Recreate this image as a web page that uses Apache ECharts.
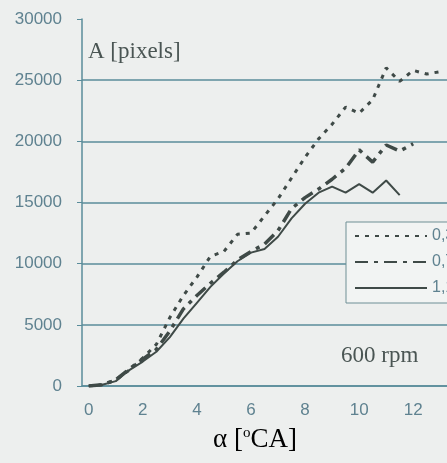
<!DOCTYPE html>
<html>
  <head>
    <meta charset="utf-8">
    <title>600 rpm</title>
    <script src="https://cdn.jsdelivr.net/npm/echarts@6/dist/echarts.min.js"></script>
    <style>
      html, body { margin: 0; padding: 0; background: #edefee; }
      #chart { width: 447px; height: 463px; }
    </style>
  </head>
  <body>
    <div id="chart"></div>
    <script>
      // crank angle categories, 0.5 deg steps
      var angles = ['0', '0.5', '1', '1.5', '2', '2.5', '3', '3.5', '4', '4.5', '5', '5.5', '6', '6.5',
        '7', '7.5', '8', '8.5', '9', '9.5', '10', '10.5', '11', '11.5', '12', '12.5', '13']
      var seriesNames = ['0,3', '0,7', '1,1']
      // A [pixels]
      var area03 = [0, 100, 500, 1300, 2300, 3400, 5600, 7400, 8900, 10600, 11000, 12400, 12500, 13900,
        15300, 17000, 18700, 20200, 21400, 22800, 22300, 23400, 26000, 24900, 25800, 25500, 25700]
      var area07 = [0, 100, 500, 1400, 2200, 3000, 4500, 6300, 7400, 8400, 9300, 10300, 11000, 11600,
        12700, 14500, 15400, 16100, 16900, 17800, 19300, 18300, 19700, 19200, 19800, null, null]
      var area11 = [0, 100, 400, 1300, 2000, 2800, 4000, 5500, 6800, 8100, 9200, 10200, 10900, 11200,
        12200, 13700, 14900, 15800, 16300, 15800, 16500, 15800, 16800, 15600, null, null, null]
      var yTicks = [0, 5000, 10000, 15000, 20000, 25000, 30000]

      var lineColor = '#3f4a47'
      var gridColor = '#5a8c9a'
      var labelColor = '#5f8290'
      var serif = '"Liberation Serif", "DejaVu Serif", serif'
      var sans = '"Liberation Sans", Arial, sans-serif'

      var chart = echarts.init(document.getElementById('chart'))

      chart.setOption({
        backgroundColor: '#edefee',
        animation: false,
        grid: { left: 82, top: 19, right: -13, bottom: 77 },
        legend: {
          orient: 'vertical',
          left: 346,
          top: 222,
          padding: [6, 14, 7, 8],
          itemWidth: 72,
          itemHeight: 14,
          itemGap: 10,
          backgroundColor: '#f2f4f3',
          borderColor: '#6f8f95',
          borderWidth: 1,
          data: seriesNames,
          // hide the marker, keep only the line sample
          itemStyle: { color: 'rgba(0,0,0,0)', borderWidth: 0 },
          textStyle: { color: labelColor, fontSize: 16, fontFamily: sans }
        },
        xAxis: {
          type: 'category',
          data: angles,
          boundaryGap: true,
          axisLine: { lineStyle: { color: gridColor, width: 1.5 } },
          axisTick: { interval: 0, length: 4, lineStyle: { color: gridColor } },
          axisLabel: {
            interval: 3,
            margin: 16,
            color: labelColor,
            fontSize: 17,
            fontFamily: sans
          },
          splitLine: { show: false }
        },
        yAxis: {
          type: 'value',
          min: yTicks[0],
          max: yTicks[yTicks.length - 1],
          interval: 5000,
          axisLine: { show: true, lineStyle: { color: gridColor, width: 1.5 } },
          axisTick: { show: true, length: 5, lineStyle: { color: gridColor } },
          axisLabel: {
            margin: 20,
            color: labelColor,
            fontSize: 17,
            fontFamily: sans,
            formatter: function (v) { return String(v) }
          },
          // no gridline at the top value
          splitLine: {
            lineStyle: {
              color: [gridColor, gridColor, gridColor, gridColor, gridColor, gridColor, 'rgba(0,0,0,0)'],
              width: 1.5
            }
          }
        },
        graphic: [
          {
            type: 'text', left: 88, top: 40,
            style: { text: 'A [pixels]', font: '23px ' + serif, fill: '#4a5553' }
          },
          {
            type: 'text', left: 341, top: 344,
            style: { text: '600 rpm', font: '23px ' + serif, fill: '#4a5553' }
          },
          {
            type: 'text', left: 213, top: 426,
            style: {
              text: '{a|\u03b1 [}{s|o}{a|CA]}',
              rich: {
                a: { fontSize: 27, fontFamily: serif, color: '#4a5553' },
                s: { fontSize: 15, fontFamily: serif, color: '#4a5553', verticalAlign: 'top', padding: [0, 0, 12, 0] }
              }
            }
          }
        ],
        series: [
          {
            name: seriesNames[0],
            type: 'line',
            data: area03,
            symbol: 'none',
            lineStyle: { color: lineColor, width: 3, type: [4, 6] },
            itemStyle: { color: lineColor },
            z: 3
          },
          {
            name: seriesNames[1],
            type: 'line',
            data: area07,
            symbol: 'none',
            lineStyle: { color: lineColor, width: 3.5, type: [13, 6, 4, 6] },
            itemStyle: { color: lineColor },
            z: 4
          },
          {
            name: seriesNames[2],
            type: 'line',
            data: area11,
            symbol: 'none',
            lineStyle: { color: lineColor, width: 2 },
            itemStyle: { color: lineColor },
            z: 5
          }
        ]
      })
    </script>
  </body>
</html>
